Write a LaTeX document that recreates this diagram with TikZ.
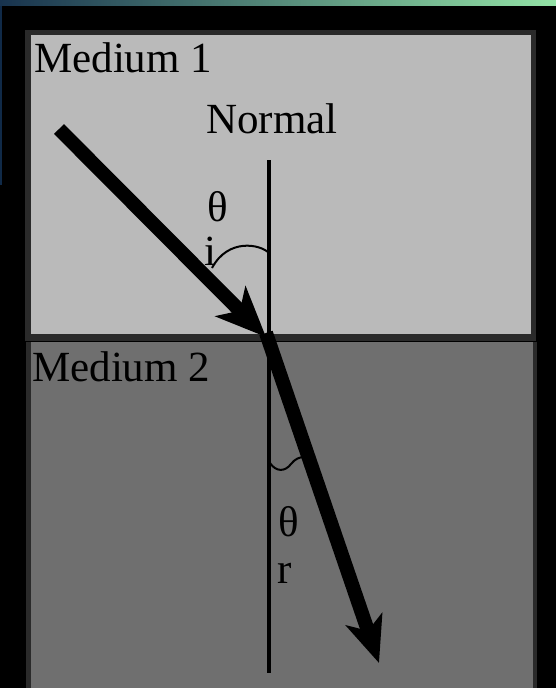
\documentclass[tikz,border=0pt]{standalone}
\usepackage{fontspec}
\setmainfont{Liberation Serif}
\usetikzlibrary{arrows.meta}
\definecolor{topleft}{HTML}{18334E}
\definecolor{topmid}{HTML}{2F7D6C}
\definecolor{topright}{HTML}{93E2A6}
\definecolor{navy}{HTML}{102A48}
\definecolor{edge}{HTML}{2A2A2A}
\definecolor{medone}{HTML}{BABABA}
\definecolor{medtwo}{HTML}{6F6F6F}
\tikzset{
  lbl/.style={font=\fontsize{43}{43}\selectfont, inner sep=0pt, text=black},
  ray/.style={line width=14pt, black},
  anglearc/.style={line width=2pt, black},
}
\begin{document}
\begin{tikzpicture}[x=1pt,y=-1pt]
  \useasboundingbox (0,0) rectangle (556,688);
  \fill[black] (0,0) rectangle (556,688);
  % top strip
  \shade[left color=topleft, middle color=topmid, right color=topright] (0,0) rectangle (556,5.5);
  \fill[navy] (0,5.5) rectangle (1.5,185);
  % medium 1
  \fill[edge] (25,30) rectangle (536,341);
  \fill[medone] (31,35) rectangle (531,334);
  % medium 2
  \fill[edge] (26,342) rectangle (537,688);
  \fill[medtwo] (31,342) rectangle (533,688);
  % labels
  \node[lbl, anchor=base west] (m1) at (34,72) {Medium 1};
  \node[lbl, anchor=base west] (m2) at (32,381) {Medium 2};
  \node[lbl, anchor=base] (nl) at (272,133) {Normal};
  \node[lbl, anchor=base] (ti) at (218,221) {θ};
  \node[lbl, anchor=base] (li) at (210,265) {i};
  \node[lbl, anchor=base] (tr) at (289,536) {θ};
  \node[lbl, anchor=base] (lr) at (285,583) {r};
  % normal line
  \coordinate (ntop) at (269,160);
  \coordinate (nbot) at (269,673);
  \draw[line width=3.5pt] (ntop) -- (nbot);
  % angle arcs
  \draw[anglearc] (269,253) .. controls (260,244) and (228,238) .. (212,268);
  \draw[anglearc] (270,463) .. controls (276,472) and (285,472) .. (291,464)
                  .. controls (295,459) and (299,457) .. (305,457);
  % rays
  \coordinate (A) at (59,129);
  \coordinate (P) at (266,337);
  \coordinate (Q) at (266,333);
  \coordinate (B) at (379,663);
  \draw[ray, -{Stealth[length=50pt,width=42pt,inset=13pt]}] (A) -- (P);
  \draw[ray, -{Stealth[length=46pt,width=38pt,inset=12pt]}] (Q) -- (B);
\end{tikzpicture}
\end{document}
